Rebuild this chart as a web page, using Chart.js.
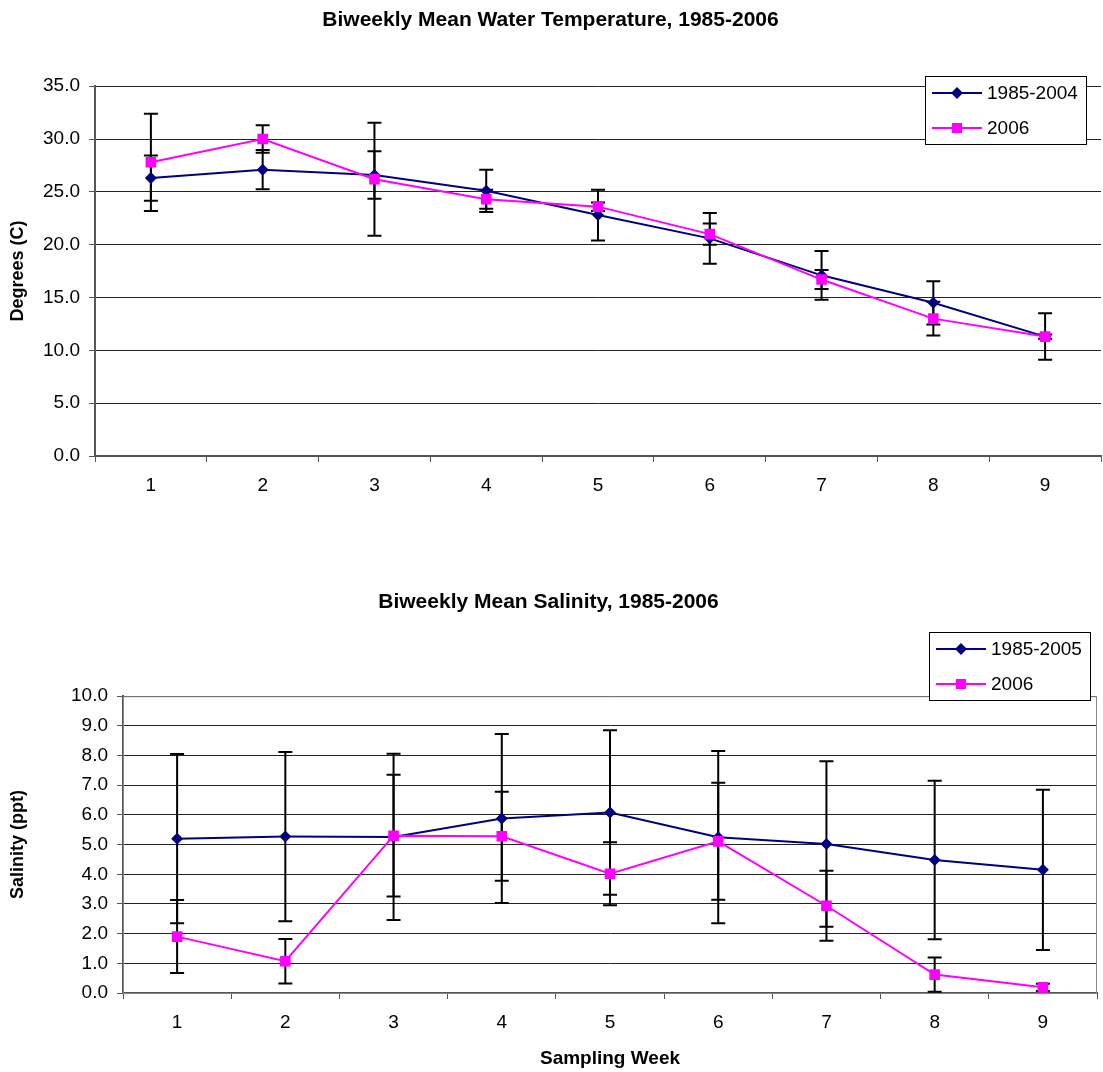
<!DOCTYPE html>
<html>
<head>
<meta charset="utf-8">
<title>Biweekly Mean Water Temperature and Salinity</title>
<script src="https://cdn.jsdelivr.net/npm/chart.js@4.4.1/dist/chart.umd.min.js"></script>
<style>
    html, body { margin: 0; padding: 0; background: #fff; }
    #wrap { position: relative; width: 1103px; height: 1072px; }
    .box { position: absolute; left: 0; width: 1103px; }
    #tempBox { top: 0; height: 540px; }
    #salBox { top: 540px; height: 532px; }
</style>
</head>
<body>
<div id="wrap">
    <div class="box" id="tempBox"><canvas id="tempChart"></canvas></div>
    <div class="box" id="salBox"><canvas id="salChart"></canvas></div>
</div>
<script>
// sampling weeks (x categories)
const weeks = ['1', '2', '3', '4', '5', '6', '7', '8', '9'];

// water temperature, degrees C
const tempLongTerm = [26.3, 27.1, 26.6, 25.1, 22.8, 20.6, 17.1, 14.5, 11.3];
const tempLongTermErr = [2.15, 1.85, 2.25, 2.0, 2.4, 2.4, 2.3, 2.05, 2.2];
const temp2006 = [27.8, 30.0, 26.2, 24.3, 23.6, 21.0, 16.7, 13.0, 11.3];
const temp2006Err = [4.6, 1.3, 5.35, 0.9, 0.4, 1.0, 0.9, 1.6, 0.2];

// salinity, ppt
const salLongTerm = [5.2, 5.27, 5.26, 5.88, 6.08, 5.25, 5.02, 4.48, 4.15];
const salLongTermErr = [2.85, 2.85, 2.8, 2.85, 2.77, 2.9, 2.79, 2.67, 2.7];
const sal2006 = [1.9, 1.07, 5.3, 5.28, 4.02, 5.11, 2.94, 0.62, 0.19];
const sal2006Err = [1.23, 0.75, 2.05, 1.5, 1.06, 1.97, 1.18, 0.58, 0.12];

const NAVY = '#000080';
const MAGENTA = '#FF00FF';
const FONT = 'Liberation Sans, Arial, Helvetica, sans-serif';

function drawMarker(ctx, style, x, y, color) {
    ctx.fillStyle = color;
    ctx.beginPath();
    if (style === 'rectRot') {
        const r = 6;
        ctx.moveTo(x, y - r);
        ctx.lineTo(x + r, y);
        ctx.lineTo(x, y + r);
        ctx.lineTo(x - r, y);
        ctx.closePath();
    } else {
        ctx.rect(x - 5, y - 5, 10, 10);
    }
    ctx.fill();
}

// vertical error bars with caps, drawn under the series lines
const errorBars = {
    id: 'errorBars',
    beforeDatasetsDraw(chart, args, opts) {
        const ctx = chart.ctx;
        const yScale = chart.scales.y;
        ctx.save();
        if (opts.frame) {
            const a = chart.chartArea;
            ctx.strokeStyle = opts.frame;
            ctx.lineWidth = 1;
            ctx.strokeRect(a.left + 0.5, a.top + 0.5, a.right - a.left - 1, a.bottom - a.top);
        }
        ctx.strokeStyle = '#000';
        ctx.lineWidth = 2;
        chart.data.datasets.forEach((ds, i) => {
            const meta = chart.getDatasetMeta(i);
            meta.data.forEach((pt, j) => {
                const v = ds.data[j];
                const e = ds.errors[j];
                const top = yScale.getPixelForValue(v + e);
                const bot = yScale.getPixelForValue(v - e);
                ctx.beginPath();
                ctx.moveTo(pt.x, top);
                ctx.lineTo(pt.x, bot);
                ctx.moveTo(pt.x - 7, top);
                ctx.lineTo(pt.x + 7, top);
                ctx.moveTo(pt.x - 7, bot);
                ctx.lineTo(pt.x + 7, bot);
                ctx.stroke();
            });
        });
        ctx.restore();
    }
};

// boxed legend floating over the top right corner of the plot
const boxLegend = {
    id: 'boxLegend',
    afterDraw(chart, args, opts) {
        const ctx = chart.ctx;
        const b = opts.box;
        ctx.save();
        ctx.fillStyle = '#fff';
        ctx.fillRect(b.x, b.y, b.w, b.h);
        ctx.strokeStyle = '#000';
        ctx.lineWidth = 1;
        ctx.strokeRect(b.x + 0.5, b.y + 0.5, b.w, b.h);
        const order = [1, 0];
        order.forEach((dsIndex, row) => {
            const ds = chart.data.datasets[dsIndex];
            const y = b.y + opts.rows[row];
            ctx.strokeStyle = ds.borderColor;
            ctx.lineWidth = 2;
            ctx.beginPath();
            ctx.moveTo(b.x + 7, y);
            ctx.lineTo(b.x + 57, y);
            ctx.stroke();
            drawMarker(ctx, ds.pointStyle, b.x + 32, y, ds.borderColor);
            ctx.fillStyle = '#000';
            ctx.font = '19px ' + FONT;
            ctx.textBaseline = 'middle';
            ctx.textAlign = 'left';
            ctx.fillText(ds.label, b.x + 62, y + 1);
        });
        ctx.restore();
    }
};

function makeChart(canvasId, cfg) {
    const datasets = [
        {
            label: '2006',
            data: cfg.recent,
            errors: cfg.recentErr,
            borderColor: MAGENTA,
            backgroundColor: MAGENTA,
            borderWidth: 2,
            pointStyle: 'rect',
            pointRadius: 7.5,
            pointHoverRadius: 7.5,
            pointBorderWidth: 0,
            tension: 0,
            order: 0
        },
        {
            label: cfg.longLabel,
            data: cfg.longTerm,
            errors: cfg.longTermErr,
            borderColor: NAVY,
            backgroundColor: NAVY,
            borderWidth: 2,
            pointStyle: 'rectRot',
            pointRadius: 6,
            pointHoverRadius: 6,
            pointBorderWidth: 0,
            tension: 0,
            order: 1
        }
    ];

    const ctx = document.getElementById(canvasId).getContext('2d');
    return new Chart(ctx, {
        type: 'line',
        data: { labels: weeks, datasets: datasets },
        plugins: [errorBars, boxLegend],
        options: {
            responsive: true,
            maintainAspectRatio: false,
            animation: false,
            devicePixelRatio: 1,
            layout: {
                autoPadding: false,
                padding: { left: 0, right: cfg.padRight, top: 0, bottom: 0 }
            },
            plugins: {
                legend: { display: false },
                tooltip: { enabled: false },
                title: {
                    display: true,
                    text: cfg.title,
                    color: '#000',
                    font: { family: FONT, size: 21, weight: 'bold' },
                    padding: { top: cfg.titleTop, bottom: cfg.titleBottom }
                },
                errorBars: { frame: cfg.frame },
                boxLegend: { box: cfg.legendBox, rows: [17, 52] }
            },
            scales: {
                x: {
                    offset: true,
                    afterFit: s => {
                        s.height = cfg.xHeight;
                        s.paddingLeft = 0;
                        s.paddingRight = 0;
                    },
                    grid: {
                        offset: true,
                        drawOnChartArea: false,
                        drawTicks: true,
                        tickLength: 6,
                        tickColor: '#555'
                    },
                    border: { color: '#555', width: 2 },
                    ticks: {
                        color: '#000',
                        padding: 12,
                        font: { family: FONT, size: 19 }
                    },
                    title: {
                        display: !!cfg.xTitle,
                        text: cfg.xTitle,
                        color: '#000',
                        font: { family: FONT, size: 19, weight: 'bold' },
                        padding: { top: 0, bottom: 2 }
                    }
                },
                y: {
                    min: 0,
                    max: cfg.yMax,
                    afterFit: s => { s.width = cfg.yWidth; },
                    grid: {
                        color: '#222',
                        lineWidth: 1,
                        tickLength: 6,
                        tickColor: '#555'
                    },
                    border: { color: '#555', width: 2 },
                    ticks: {
                        stepSize: cfg.yStep,
                        color: '#000',
                        padding: cfg.yPad,
                        font: { family: FONT, size: 19 },
                        callback: v => Number(v).toFixed(1)
                    },
                    title: {
                        display: true,
                        text: cfg.yTitle,
                        color: '#000',
                        font: { family: FONT, size: 18, weight: 'bold' },
                        padding: { top: 7, bottom: 0 }
                    }
                }
            }
        }
    });
}

makeChart('tempChart', {
    title: 'Biweekly Mean Water Temperature, 1985-2006',
    titleTop: 8,
    titleBottom: 53,
    longLabel: '1985-2004',
    longTerm: tempLongTerm,
    longTermErr: tempLongTermErr,
    recent: temp2006,
    recentErr: temp2006Err,
    yMax: 35,
    yStep: 5,
    yWidth: 95,
    yPad: 9,
    yTitle: 'Degrees (C)',
    xTitle: '',
    xHeight: 84,
    padRight: 2,
    frame: null,
    legendBox: { x: 925, y: 76, w: 161, h: 68 }
});

makeChart('salChart', {
    title: 'Biweekly Mean Salinity, 1985-2006',
    titleTop: 50,
    titleBottom: 81,
    longLabel: '1985-2005',
    longTerm: salLongTerm,
    longTermErr: salLongTermErr,
    recent: sal2006,
    recentErr: sal2006Err,
    yMax: 10,
    yStep: 1,
    yWidth: 123,
    yPad: 9,
    yTitle: 'Salinity (ppt)',
    xTitle: 'Sampling Week',
    xHeight: 79,
    padRight: 6,
    frame: '#888',
    legendBox: { x: 929, y: 92, w: 161, h: 68 }
});
</script>
</body>
</html>
